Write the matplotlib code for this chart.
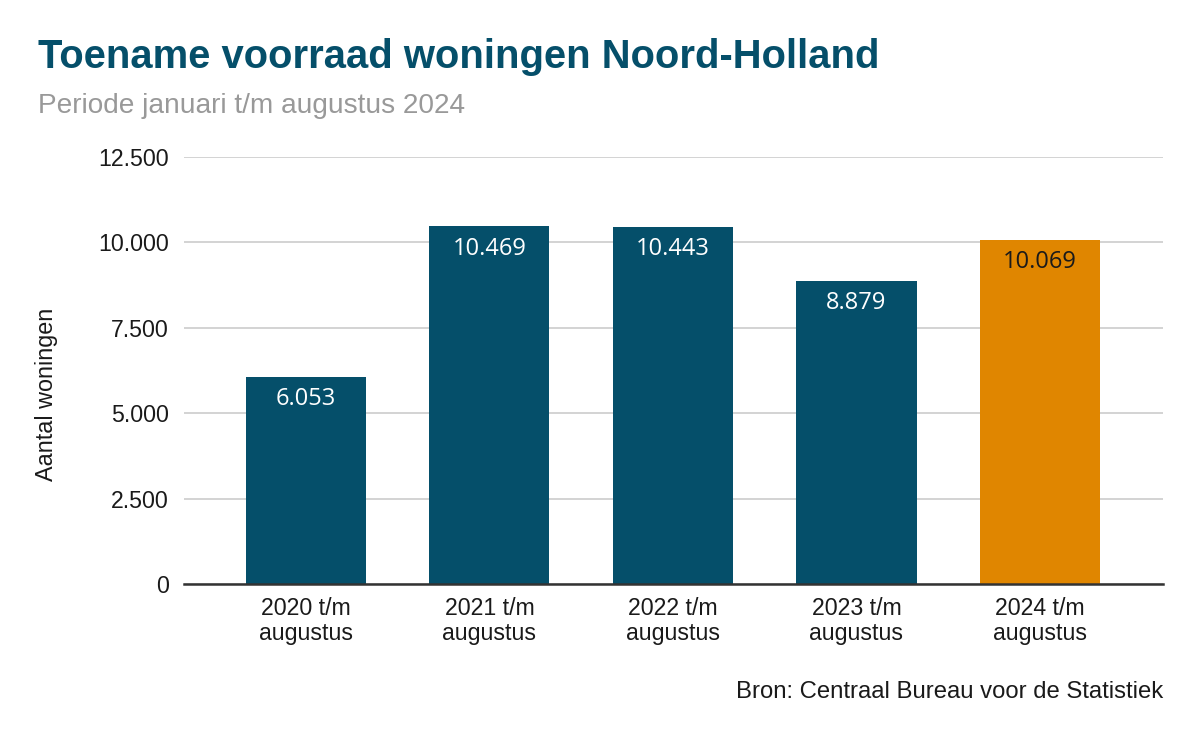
import matplotlib
matplotlib.use('Agg')
import matplotlib.pyplot as plt
from matplotlib.ticker import FixedLocator

# data
categories = ['2020 t/m\naugustus', '2021 t/m\naugustus', '2022 t/m\naugustus',
              '2023 t/m\naugustus', '2024 t/m\naugustus']
values = [6053, 10469, 10443, 8879, 10069]
value_labels = ['6.053', '10.469', '10.443', '8.879', '10.069']
y_ticks = [0, 2500, 5000, 7500, 10000, 12500]
y_tick_labels = ['0', '2.500', '5.000', '7.500', '10.000', '12.500']

dark = '#054f6a'
orange = '#e08600'
bar_colors = [dark, dark, dark, dark, orange]
text_colors = ['white', 'white', 'white', 'white', '#1a1a1a']

plt.rcParams['font.family'] = ['Liberation Sans', 'DejaVu Sans']

fig = plt.figure(figsize=(11.99, 7.42), dpi=100)
fig.set_facecolor('white')
ax = fig.add_axes([184 / 1199, 1 - 584 / 742, (1163 - 184) / 1199, (584 - 157) / 742])

x = list(range(len(categories)))
ax.bar(x, values, width=0.654, color=bar_colors, zorder=3)

# value labels inside the top of each bar
for xi, v, lab, c in zip(x, values, value_labels, text_colors):
    ax.annotate(lab, xy=(xi, v), xytext=(0, -16), textcoords='offset points',
                ha='center', va='center', color=c, fontsize=17,
                family=['Open Sans', 'DejaVu Sans'], zorder=4)

ax.set_xlim(-0.664, 4.67)
ax.set_ylim(0, 12500)
ax.yaxis.set_major_locator(FixedLocator(y_ticks))
ax.set_yticklabels(y_tick_labels)
ax.set_xticks(x)
ax.set_xticklabels(categories, linespacing=1.08)

ax.grid(axis='y', color='#cccccc', linewidth=1.2, zorder=0)
ax.set_axisbelow(True)
for side in ['top', 'right', 'left']:
    ax.spines[side].set_visible(False)
ax.spines['bottom'].set_color('#333333')
ax.spines['bottom'].set_linewidth(1.8)
ax.spines['bottom'].set_zorder(5)

ax.tick_params(axis='both', length=0, labelsize=16.7, colors='#1a1a1a')
ax.tick_params(axis='y', pad=10.8)
ax.tick_params(axis='x', pad=9.5)

ax.set_ylabel('Aantal woningen', fontsize=16.8, color='#1a1a1a')
ax.get_yaxis().set_label_coords(-0.129, 0.443)

fig.text(38 / 1199, 1 - 57 / 742, 'Toename voorraad woningen Noord-Holland',
         fontsize=28.8, fontweight='bold', color=dark, ha='left', va='center')
fig.text(38 / 1199, 1 - 106 / 742, 'Periode januari t/m augustus 2024',
         fontsize=20.2, color='#999999', ha='left', va='center')
fig.text(1163 / 1199, 1 - 692 / 742, 'Bron: Centraal Bureau voor de Statistiek',
         fontsize=17.2, color='#1a1a1a', ha='right', va='center')

fig.savefig('out.png', dpi=100, facecolor='white')
